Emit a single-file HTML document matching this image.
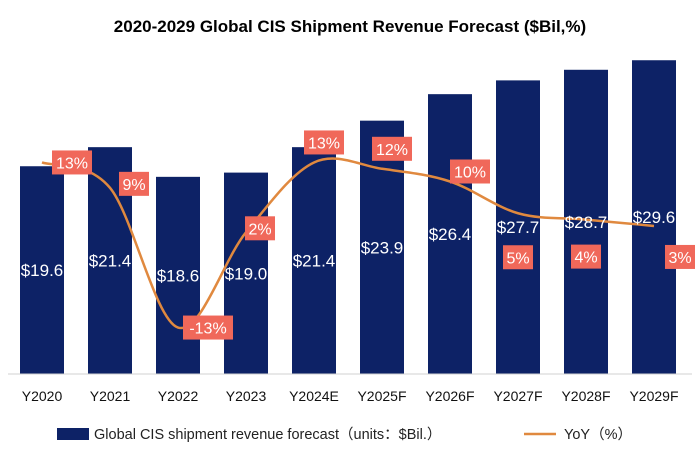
<!DOCTYPE html>
<html><head><meta charset="utf-8"><style>
body{margin:0;background:#fff;}
svg{display:block;font-family:"Liberation Sans","Noto Sans CJK SC",sans-serif;}
</style></head><body>
<svg id="c" width="700" height="460" viewBox="0 0 700 460">
<text x="350" y="32" text-anchor="middle" font-size="17" font-weight="bold" fill="#000">2020-2029 Global CIS Shipment Revenue Forecast ($Bil,%)</text>
<g id="bars"></g><g id="line"></g><g id="labels"></g><g id="xaxis"></g>
<g>
<rect x="57" y="428" width="32" height="12" fill="#0d2266"/>
<text x="94" y="439" font-size="14.5" fill="#222">Global CIS shipment revenue forecast（units：$Bil.）</text>
<line x1="524" y1="434" x2="556" y2="434" stroke="#e0893f" stroke-width="2.5"/>
<text x="564" y="439" font-size="14.5" fill="#222">YoY（%）</text>
</g>
</svg>
<script>
const categories=["Y2020","Y2021","Y2022","Y2023","Y2024E","Y2025F","Y2026F","Y2027F","Y2028F","Y2029F"];
const revenue=[19.6,21.4,18.6,19.0,21.4,23.9,26.4,27.7,28.7,29.6];
const yoy=[13,9,-13,2,13,12,10,5,4,3];
const NS="http://www.w3.org/2000/svg";
const x=i=>42+i*68;
const yb=v=>374-v*10.6;
const yl=v=>245-v*6.35;
function mk(t,a,p){const e=document.createElementNS(NS,t);for(const k in a)e.setAttribute(k,a[k]);p.appendChild(e);return e;}
const bars=document.getElementById('bars'),labels=document.getElementById('labels'),xa=document.getElementById('xaxis'),ln=document.getElementById('line');
mk('line',{x1:8,y1:374,x2:692,y2:374,stroke:'#d0d0d0'},xa);
revenue.forEach((v,i)=>{
 const r=mk('rect',{x:x(i)-22,y:yb(v),width:44,height:374-yb(v),fill:'#0d2266'},bars);
 
 
 const t=mk('text',{x:x(i),y:(yb(v)+374)/2+6,'text-anchor':'middle','font-size':17,fill:'#fff'},labels);
 t.textContent='$'+v.toFixed(1);
 
 
 const c=mk('text',{x:x(i),y:401,'text-anchor':'middle','font-size':14,fill:'#111'},xa);
 c.textContent=categories[i];
 
 
});
const pts=yoy.map((v,i)=>[x(i),yl(v)]);
let d='M'+pts[0][0]+','+pts[0][1];
for(let i=0;i<pts.length-1;i++){
 const p0=pts[Math.max(0,i-1)],p1=pts[i],p2=pts[i+1],p3=pts[Math.min(pts.length-1,i+2)];
 const c1=[p1[0]+(p2[0]-p0[0])/6,p1[1]+(p2[1]-p0[1])/6],c2=[p2[0]-(p3[0]-p1[0])/6,p2[1]-(p3[1]-p1[1])/6];
 d+=` C${c1[0]},${c1[1]} ${c2[0]},${c2[1]} ${p2[0]},${p2[1]}`;
}
const path=mk('path',{d:d,fill:'none',stroke:'#e0893f','stroke-width':2.5},ln);


const off=[[30,0],[24,-4],[30,0],[14,-4],[10,-20],[10,-20],[20,-10],[0,44],[0,37],[26,31]];
yoy.forEach((v,i)=>{
 const s=v+'%',w=s.length*10+10,cx=x(i)+off[i][0],cy=yl(v)+off[i][1];
 const g=mk('g',{},labels);
 
 
 mk('rect',{x:cx-w/2,y:cy-12,width:w,height:24,fill:'#f0685a'},g);
 const t=mk('text',{x:cx,y:cy+6,'text-anchor':'middle','font-size':16,fill:'#fff'},g);
 t.textContent=s;
});
</script>
</body></html>
